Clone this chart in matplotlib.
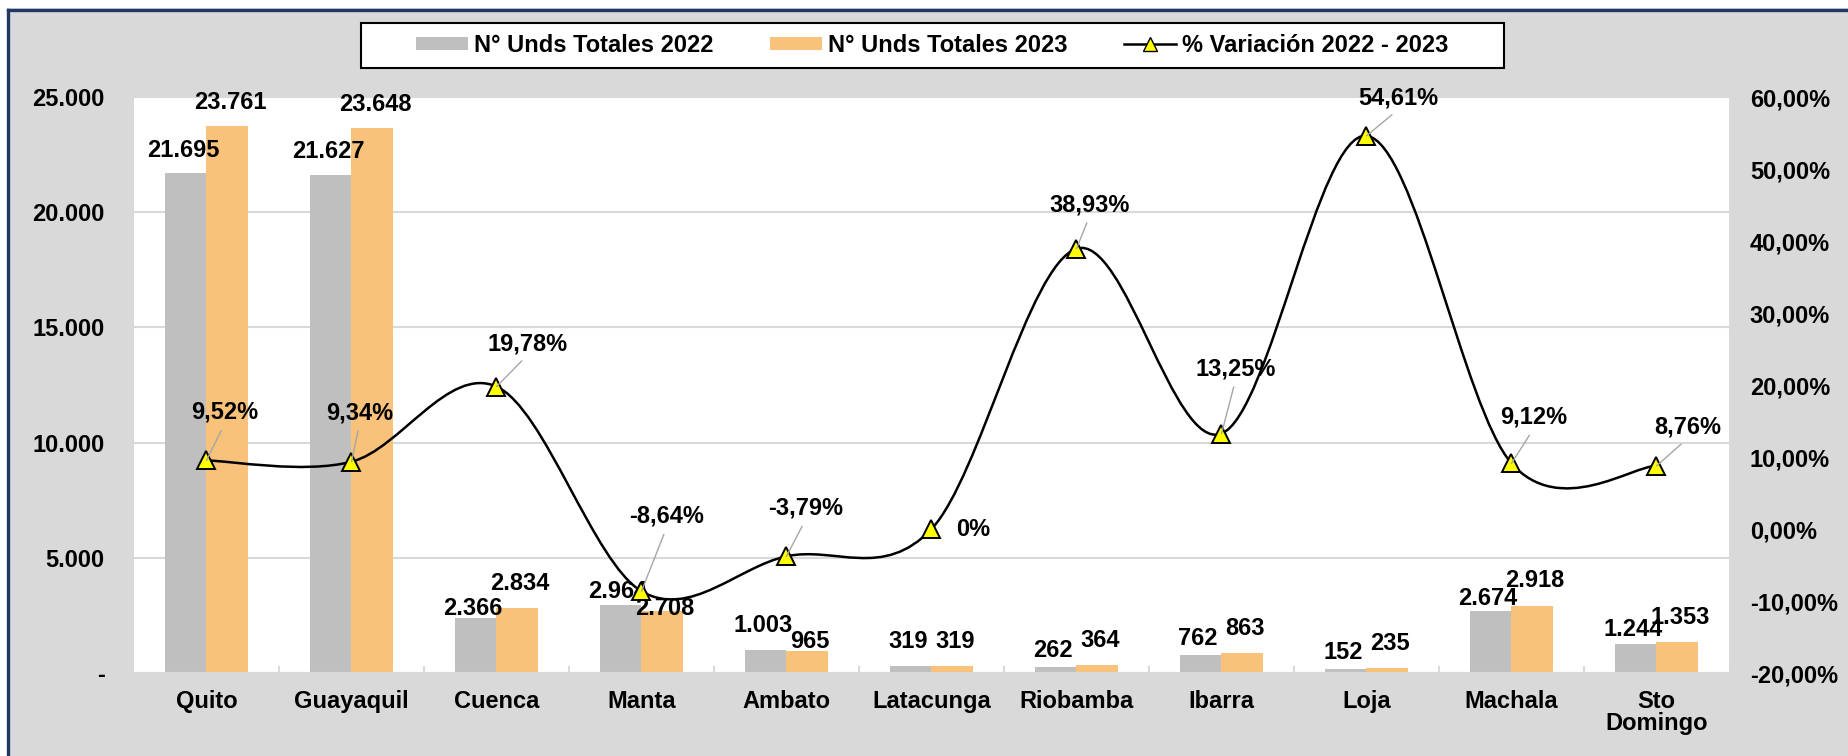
import matplotlib

matplotlib.use("Agg")
import matplotlib.pyplot as plt  # noqa: E402
from matplotlib.lines import Line2D  # noqa: E402
from matplotlib.patches import Patch, PathPatch, Rectangle  # noqa: E402
from matplotlib.path import Path  # noqa: E402

ciudades = ["Quito", "Guayaquil", "Cuenca", "Manta", "Ambato", "Latacunga",
            "Riobamba", "Ibarra", "Loja", "Machala", "Sto\nDomingo"]
unds_2022 = [21695, 21627, 2366, 2964, 1003, 319, 262, 762, 152, 2674, 1244]
unds_2023 = [23761, 23648, 2834, 2708, 965, 319, 364, 863, 235, 2918, 1353]
variacion = [9.52, 9.34, 19.78, -8.64, -3.79, 0.0, 38.93, 13.25, 54.61, 9.12, 8.76]

left_ticks = [0, 5000, 10000, 15000, 20000, 25000]
right_ticks = [-20, -10, 0, 10, 20, 30, 40, 50, 60]

# label placement (pixels), tuned by eye against the source chart
lift_2022 = [16, 17, 3, 7, 18, 18, 10, 10, 10, 6, 8]
lift_2023 = [17, 17, 18, -4, 3, 18, 18, 18, 18, 19, 18]
pct_offsets = [(18, 48), (8, 49), (31, 43), (25, 75), (19, 48), (42, 0),
               (13, 44), (14, 65), (32, 38), (22, 46), (31, 39)]

GRAY = "#bfbfbf"
ORANGE = "#f8c27a"
BG = "#d9d9d9"
NAVY = "#1f3864"
W, H = 1849, 756

plt.rcParams["font.family"] = ["Liberation Sans", "DejaVu Sans"]
plt.rcParams["font.weight"] = "bold"
FS = 17


def fmt_unds(v):
    return "-" if v == 0 else f"{v:,.0f}".replace(",", ".")


def fmt_pct(v):
    return "0%" if v == 0 else f"{v:.2f}".replace(".", ",") + "%"


def smooth_path(xs, ys):
    # Catmull-Rom curve written as cubic Bezier segments (Excel-like smoothed line)
    pts = list(zip(xs, ys))
    ext = [pts[0]] + pts + [pts[-1]]
    verts = [pts[0]]
    codes = [Path.MOVETO]
    for i in range(len(pts) - 1):
        p0, p1, p2, p3 = ext[i], ext[i + 1], ext[i + 2], ext[i + 3]
        c1 = (p1[0] + (p2[0] - p0[0]) / 6, p1[1] + (p2[1] - p0[1]) / 6)
        c2 = (p2[0] - (p3[0] - p1[0]) / 6, p2[1] - (p3[1] - p1[1]) / 6)
        verts += [c1, c2, p2]
        codes += [Path.CURVE4] * 3
    return Path(verts, codes)


fig = plt.figure(figsize=(W / 100, H / 100), dpi=100, facecolor=BG)
fig.add_artist(Rectangle((0, 1 - 8 / H), 1, 8 / H, transform=fig.transFigure,
                         facecolor="white", edgecolor="none", zorder=-2))
fig.add_artist(Rectangle((0, 0), 7 / W, 1, transform=fig.transFigure,
                         facecolor="white", edgecolor="none", zorder=-2))
fig.add_artist(Line2D([8.5 / W, 1], [1 - 9.5 / H] * 2, transform=fig.transFigure,
                      color=NAVY, lw=2.4, zorder=-1))
fig.add_artist(Line2D([8.5 / W] * 2, [0, 1 - 9.5 / H], transform=fig.transFigure,
                      color=NAVY, lw=2.4, zorder=-1))

ax = fig.add_axes([134 / W, 1 - 673 / H, (1729 - 134) / W, (673 - 97) / H])
ax.set_facecolor("white")
x = list(range(len(ciudades)))
bw = 0.283

ax.bar([i - bw / 2 for i in x], unds_2022, width=bw, color=GRAY, zorder=2)
ax.bar([i + bw / 2 for i in x], unds_2023, width=bw, color=ORANGE, zorder=2)

for i in x:
    ax.annotate(fmt_unds(unds_2022[i]), xy=(i - bw / 2, unds_2022[i]),
                xytext=(-3, lift_2022[i]), textcoords="offset pixels",
                ha="center", va="baseline", fontsize=FS, zorder=4)
    ax.annotate(fmt_unds(unds_2023[i]), xy=(i + bw / 2, unds_2023[i]),
                xytext=(3, lift_2023[i]), textcoords="offset pixels",
                ha="center", va="baseline", fontsize=FS, zorder=4)

ax.set_xlim(-0.5, len(ciudades) - 0.5)
ax.set_ylim(0, 25000)
ax.set_yticks(left_ticks)
ax.set_yticklabels([fmt_unds(v) for v in left_ticks])
ax.yaxis.grid(True, color=BG, lw=1.5, zorder=0)
ax.set_axisbelow(True)
ax.set_xticks(x)
ax.set_xticklabels(ciudades, fontsize=FS, linespacing=0.95)
ax.set_xticks([i + 0.5 for i in x[:-1]], minor=True)
ax.tick_params(axis="x", which="major", length=0, pad=12)
ax.tick_params(axis="x", which="minor", length=5, direction="in", color=BG, width=1.5)
ax.tick_params(axis="y", length=0, pad=21, labelsize=FS)
for side in ["top", "left", "right"]:
    ax.spines[side].set_visible(False)
ax.spines["bottom"].set_color(BG)
ax.spines["bottom"].set_linewidth(1.5)

ax2 = ax.twinx()
ax2.set_ylim(-20, 60)
ax2.set_yticks(right_ticks)
ax2.set_yticklabels([f"{v:.2f}".replace(".", ",") + "%" for v in right_ticks])
ax2.tick_params(axis="y", length=0, pad=15, labelsize=FS)
for spine in ax2.spines.values():
    spine.set_visible(False)

ax2.add_patch(PathPatch(smooth_path(x, variacion), facecolor="none",
                        edgecolor="black", lw=1.8, zorder=3))
ax2.plot(x, variacion, linestyle="none", marker="^", markersize=13,
         markerfacecolor="#ffff00", markeredgecolor="black", markeredgewidth=1.4, zorder=4)

for i in x:
    dx, dy = pct_offsets[i]
    arrow = None
    if dy != 0:
        arrow = dict(arrowstyle="-", color="#a6a6a6", lw=1, shrinkA=3, shrinkB=0,
                     relpos=(0.5, 0))
    ax2.annotate(fmt_pct(variacion[i]), xy=(i, variacion[i]), xytext=(dx, dy),
                 textcoords="offset pixels", ha="center", va="center",
                 fontsize=FS, arrowprops=arrow, zorder=5)

fig.add_artist(Rectangle((361 / W, 1 - 68 / H), (1504 - 361) / W, 45 / H,
                         transform=fig.transFigure, facecolor="white",
                         edgecolor="black", lw=1.5, zorder=4))
handles = [
    Patch(facecolor=GRAY, edgecolor="none"),
    Patch(facecolor=ORANGE, edgecolor="none"),
    Line2D([], [], color="black", lw=1.8, marker="^", markersize=10,
           markerfacecolor="#ffff00", markeredgecolor="black"),
]
labels = ["N° Unds Totales 2022", "N° Unds Totales 2023", "% Variación 2022 - 2023"]
fig.legend(handles, labels, loc="center", bbox_to_anchor=(932.5 / W, 1 - 45.5 / H),
           ncol=3, frameon=False, fontsize=FS, handlelength=2.2, handleheight=0.5,
           handletextpad=0.25, columnspacing=2.4)

fig.savefig("out.png", dpi=100, facecolor=BG)
